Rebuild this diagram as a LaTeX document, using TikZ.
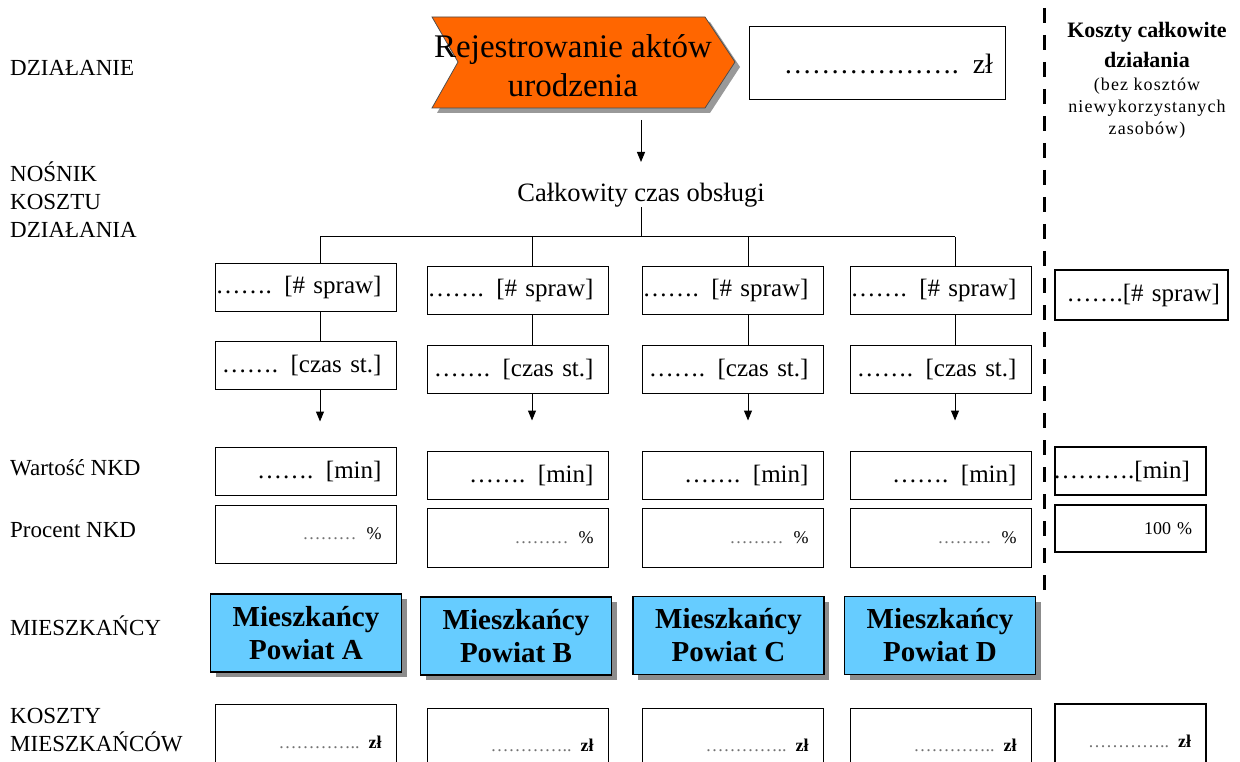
\documentclass[tikz,border=0pt]{standalone}
\usepackage{fontspec}
\setmainfont{Liberation Serif}
\usetikzlibrary{arrows.meta,shadows}

\definecolor{pomarancz}{RGB}{255,102,0}
\definecolor{blekit}{RGB}{102,204,255}

% tekst dosuniety do prawej, wystaje w lewo
\newcommand{\wprawo}[1]{\llap{#1}}
\newcommand{\kropki}[1]{\textcolor{black!55}{#1}}

\begin{document}
\begin{tikzpicture}[x=1pt,y=-1pt]
        \tikzstyle{every node}=[inner sep=0pt];
        \tikzstyle{etykieta}=[anchor=west,align=left,font=\fontsize{23}{28}\selectfont];
        \tikzstyle{pole}=[draw,line width=1pt,text width=151pt,inner xsep=15pt,minimum height=48pt,align=right,font=\fontsize{25}{28}\selectfont];
        \tikzstyle{maly}=[pole,font=\fontsize{18}{20}\selectfont];
        \tikzstyle{suma}=[line width=2pt];
        \tikzstyle{powiat}=[draw,line width=1.5pt,fill=blekit,minimum width=191pt,minimum height=78pt,align=center,font=\bfseries\fontsize{29}{33}\selectfont,drop shadow={shadow xshift=5pt,shadow yshift=-5pt,fill=black!45,opacity=1}];
        \tikzstyle{strzalka}=[-{Triangle[width=8pt,length=10pt]},line width=1pt];

        \useasboundingbox (0,0) rectangle (1240,762);
        \clip (0,0) rectangle (1240,762);

        % opisy wierszy
        \node[etykieta] (lDzial) at (10,68) {DZIAŁANIE};
        \node[etykieta] (lNosnik) at (10,200) {NOŚNIK\\KOSZTU\\DZIAŁANIA};
        \node[etykieta] (lWart) at (10,468) {Wartość NKD};
        \node[etykieta] (lProc) at (10,530) {Procent NKD};
        \node[etykieta] (lMiesz) at (10,626) {MIESZKAŃCY};
        \node[etykieta] (lKoszt) at (10,730) {KOSZTY\\MIESZKAŃCÓW};

        % dzialanie (strzalka procesu)
        \fill[black!40] (437,22) -- (710,22) -- (740,67) -- (710,113) -- (437,113) -- (463,67) -- cycle;
        \filldraw[fill=pomarancz,draw=black!70,line width=0.75pt] (432,17) -- (705,17) -- (735,62) -- (705,108) -- (432,108) -- (458,62) -- cycle;
        \node (dzialanie) at (573,66) [align=center,font=\fontsize{33}{39}\selectfont] {Rejestrowanie aktów\\urodzenia};
        \node (kosztDz) at (877,63.5) [pole,text width=232pt,inner xsep=12pt,minimum height=73pt,font=\fontsize{28}{30}\selectfont] {………………. zł};

        % kolumna sum
        \draw[line width=3pt,dash pattern=on 15pt off 12pt] (1044,8) -- (1044,596);
        \node (naglowek) at (1147,45) [align=center,font=\bfseries\fontsize{22}{30}\selectfont] {Koszty całkowite\\działania};
        \node (uwaga) at (1147,108) [align=center,font=\fontsize{18}{22}\selectfont\addfontfeature{LetterSpace=6}] {(bez kosztów\\niewykorzystanych\\zasobów)};

        % nosnik
        \coordinate (strzGora) at (641,120);
        \coordinate (strzDol) at (641,162);
        \draw[strzalka] (strzGora) -- (strzDol);
        \node (czas) at (641,195) [font=\fontsize{26.5}{30}\selectfont] {Całkowity czas obsługi};
        \coordinate (szyna) at (641,237);
        \coordinate (kA) at (320,237);
        \coordinate (kB) at (532,237);
        \coordinate (kC) at (748,237);
        \coordinate (kD) at (955,237);
        \draw[line width=1pt] (czas.south) -- (szyna);
        \draw[line width=1pt] (kA) -- (kD);

        % powiat A
        \node[pole] (sprawA) at (306,287.5) {\wprawo{……. [\# spraw]}};
        \node[pole] (czasA) at (306,365) {\wprawo{……. [czas st.]}};
        \node[pole] (minA) at (306,471) {……. [min]};
        \node[maly,minimum height=58pt] (procA) at (306,534) {\kropki{………}\hspace{10pt}\%};
        \node[powiat] (mieszA) at (306,633) {Mieszkańcy\\Powiat A};
        \node[maly,minimum height=75pt] (kosztA) at (306,742) {\kropki{…………..} \textbf{zł}};

        % powiat B
        \node[pole] (sprawB) at (518,290.5) {\wprawo{……. [\# spraw]}};
        \node[pole] (czasB) at (518,369) {\wprawo{……. [czas st.]}};
        \node[pole] (minB) at (518,475.5) {……. [min]};
        \node[maly,minimum height=59pt] (procB) at (518,537.5) {\kropki{………}\hspace{10pt}\%};
        \node[powiat] (mieszB) at (516,636) {Mieszkańcy\\Powiat B};
        \node[maly,minimum height=75pt] (kosztB) at (518,745.5) {\kropki{…………..} \textbf{zł}};

        % powiat C
        \node[pole] (sprawC) at (733,290.5) {\wprawo{……. [\# spraw]}};
        \node[pole] (czasC) at (733,369) {\wprawo{……. [czas st.]}};
        \node[pole] (minC) at (733,475.5) {……. [min]};
        \node[maly,minimum height=59pt] (procC) at (733,537.5) {\kropki{………}\hspace{10pt}\%};
        \node[powiat] (mieszC) at (728.5,635.5) {Mieszkańcy\\Powiat C};
        \node[maly,minimum height=75pt] (kosztC) at (733,745.5) {\kropki{…………..} \textbf{zł}};

        % powiat D
        \node[pole] (sprawD) at (941,290.5) {\wprawo{……. [\# spraw]}};
        \node[pole] (czasD) at (941,369) {\wprawo{……. [czas st.]}};
        \node[pole] (minD) at (941,475.5) {……. [min]};
        \node[maly,minimum height=59pt] (procD) at (941,537.5) {\kropki{………}\hspace{10pt}\%};
        \node[powiat] (mieszD) at (940,635.5) {Mieszkańcy\\Powiat D};
        \node[maly,minimum height=75pt] (kosztD) at (941,745.5) {\kropki{…………..} \textbf{zł}};

        % sumy
        \node[pole,suma,text width=157pt,inner xsep=8pt,minimum height=50pt] (sprawR) at (1141.5,295) {\wprawo{…….[\# spraw]}};
        \node[pole,suma,text width=119pt,inner xsep=16pt] (minR) at (1130.5,471) {\wprawo{……….[min]}};
        \node[maly,suma,text width=123pt,inner xsep=14pt,minimum height=47pt] (procR) at (1130.5,528.5) {100 \%};
        \node[maly,suma,text width=121pt,minimum height=75pt] (kosztR) at (1130.5,741.5) {\kropki{…………..} \textbf{zł}};

        %\draw (kX) -- (sprawX) -- (czasX) -> ...
        \draw[line width=1pt] (kA) -- (kA |- sprawA.north)
        (kB) -- (kB |- sprawB.north)
        (kC) -- (kC |- sprawC.north)
        (kD) -- (kD |- sprawD.north);
        \draw[line width=1pt] (kA |- sprawA.south) -- (kA |- czasA.north)
        (kB |- sprawB.south) -- (kB |- czasB.north)
        (kC |- sprawC.south) -- (kC |- czasC.north)
        (kD |- sprawD.south) -- (kD |- czasD.north);
        \draw[strzalka] (kA |- czasA.south) -- ++(0,32);
        \draw[strzalka] (kB |- czasB.south) -- ++(0,27);
        \draw[strzalka] (kC |- czasC.south) -- ++(0,27);
        \draw[strzalka] (kD |- czasD.south) -- ++(0,27);
    \end{tikzpicture}
\end{document}
